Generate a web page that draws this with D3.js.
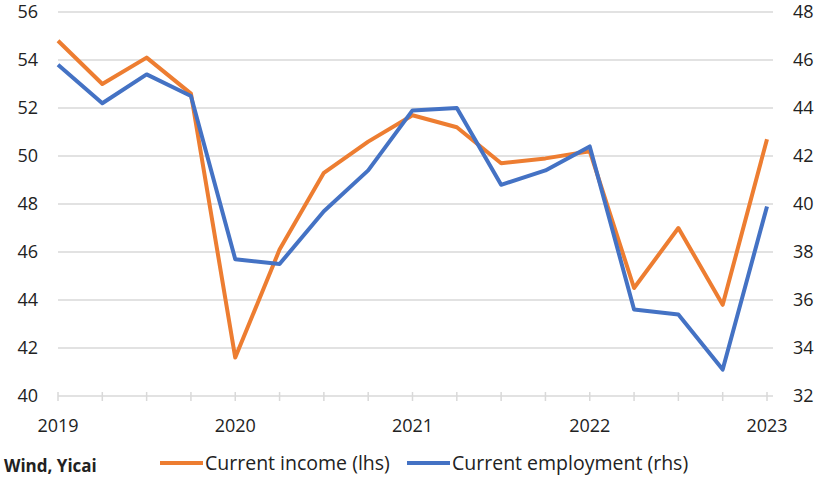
<!DOCTYPE html>
<html><head><meta charset="utf-8">
<script src="https://cdn.jsdelivr.net/npm/d3@7"></script>
<style>body{margin:0;background:#fff}text{font-family:"Open Sans","Liberation Sans",sans-serif}</style>
</head><body><svg id="c" width="820" height="480"></svg>
<script>
const quarters = d3.range(17);
const yearLabels = ["2019","2020","2021","2022","2023"];
const income = [54.8,53.0,54.1,52.6,41.6,46.1,49.3,50.6,51.7,51.2,49.7,49.9,50.2,44.5,47.0,43.8,50.7];
const employment = [45.8,44.2,45.4,44.5,37.7,37.5,39.7,41.4,43.9,44.0,40.8,41.4,42.4,35.6,35.4,33.1,39.9];
const leftTicks = [40,42,44,46,48,50,52,54,56];
const rightTicks = [32,34,36,38,40,42,44,46,48];

const svg = d3.select("#c");
const x = d3.scaleLinear().domain([0,16]).range([58,767]);
const yL = d3.scaleLinear().domain([40,56]).range([396,12]);
const yR = d3.scaleLinear().domain([32,48]).range([396,12]);
const grid = "#D9D9D9";

svg.append("g").selectAll("line").data(leftTicks.slice(1)).join("line")
  .attr("x1",58).attr("x2",773).attr("y1",d=>yL(d)).attr("y2",d=>yL(d))
  .attr("stroke",grid).attr("stroke-width",1.5);
svg.append("line").attr("x1",58).attr("x2",773).attr("y1",yL(40)).attr("y2",yL(40)).attr("stroke",grid).attr("stroke-width",1.5);
svg.append("g").selectAll("line").data(quarters).join("line")
  .attr("x1",d=>x(d)).attr("x2",d=>x(d)).attr("y1",yL(40)-4).attr("y2",yL(40)+5)
  .attr("stroke",grid).attr("stroke-width",1.5);

svg.append("g").selectAll("text").data(leftTicks).join("text")
  .attr("x",38).attr("y",d=>yL(d)).attr("dy","0.35em").attr("text-anchor","end")
  .attr("font-size",18).attr("fill","#222").text(d=>d);
svg.append("g").selectAll("text").data(rightTicks).join("text")
  .attr("x",793).attr("y",d=>yR(d)).attr("dy","0.35em").attr("text-anchor","start")
  .attr("font-size",18).attr("fill","#222").text(d=>d);
svg.append("g").selectAll("text").data(yearLabels).join("text")
  .attr("x",(d,i)=>x(i*4)).attr("y",426).attr("dy","0.35em").attr("text-anchor","middle")
  .attr("font-size",18).attr("fill","#222").text(d=>d);

const lineL = d3.line().x((d,i)=>x(i)).y(d=>yL(d));
const lineR = d3.line().x((d,i)=>x(i)).y(d=>yR(d));
svg.append("path").datum(income).attr("d",lineL).attr("fill","none").attr("stroke","#ED7D31").attr("stroke-width",4).attr("stroke-linejoin","round");
svg.append("path").datum(employment).attr("d",lineR).attr("fill","none").attr("stroke","#4472C4").attr("stroke-width",4).attr("stroke-linejoin","round");

svg.append("text").attr("x",4).attr("y",466).attr("dy","0.35em").attr("font-size",17).attr("font-weight","bold").attr("fill","#222").text("Wind, Yicai");
const legend = [{name:"Current income (lhs)",color:"#ED7D31",x0:160},{name:"Current employment (rhs)",color:"#4472C4",x0:407}];
const lg = svg.append("g").selectAll("g").data(legend).join("g");
lg.append("line").attr("x1",d=>d.x0).attr("x2",d=>d.x0+43).attr("y1",463).attr("y2",463).attr("stroke",d=>d.color).attr("stroke-width",4);
lg.append("text").attr("x",d=>d.x0+45).attr("y",463).attr("dy","0.35em").attr("font-size",19.5).attr("fill","#222").text(d=>d.name);
</script></body></html>
